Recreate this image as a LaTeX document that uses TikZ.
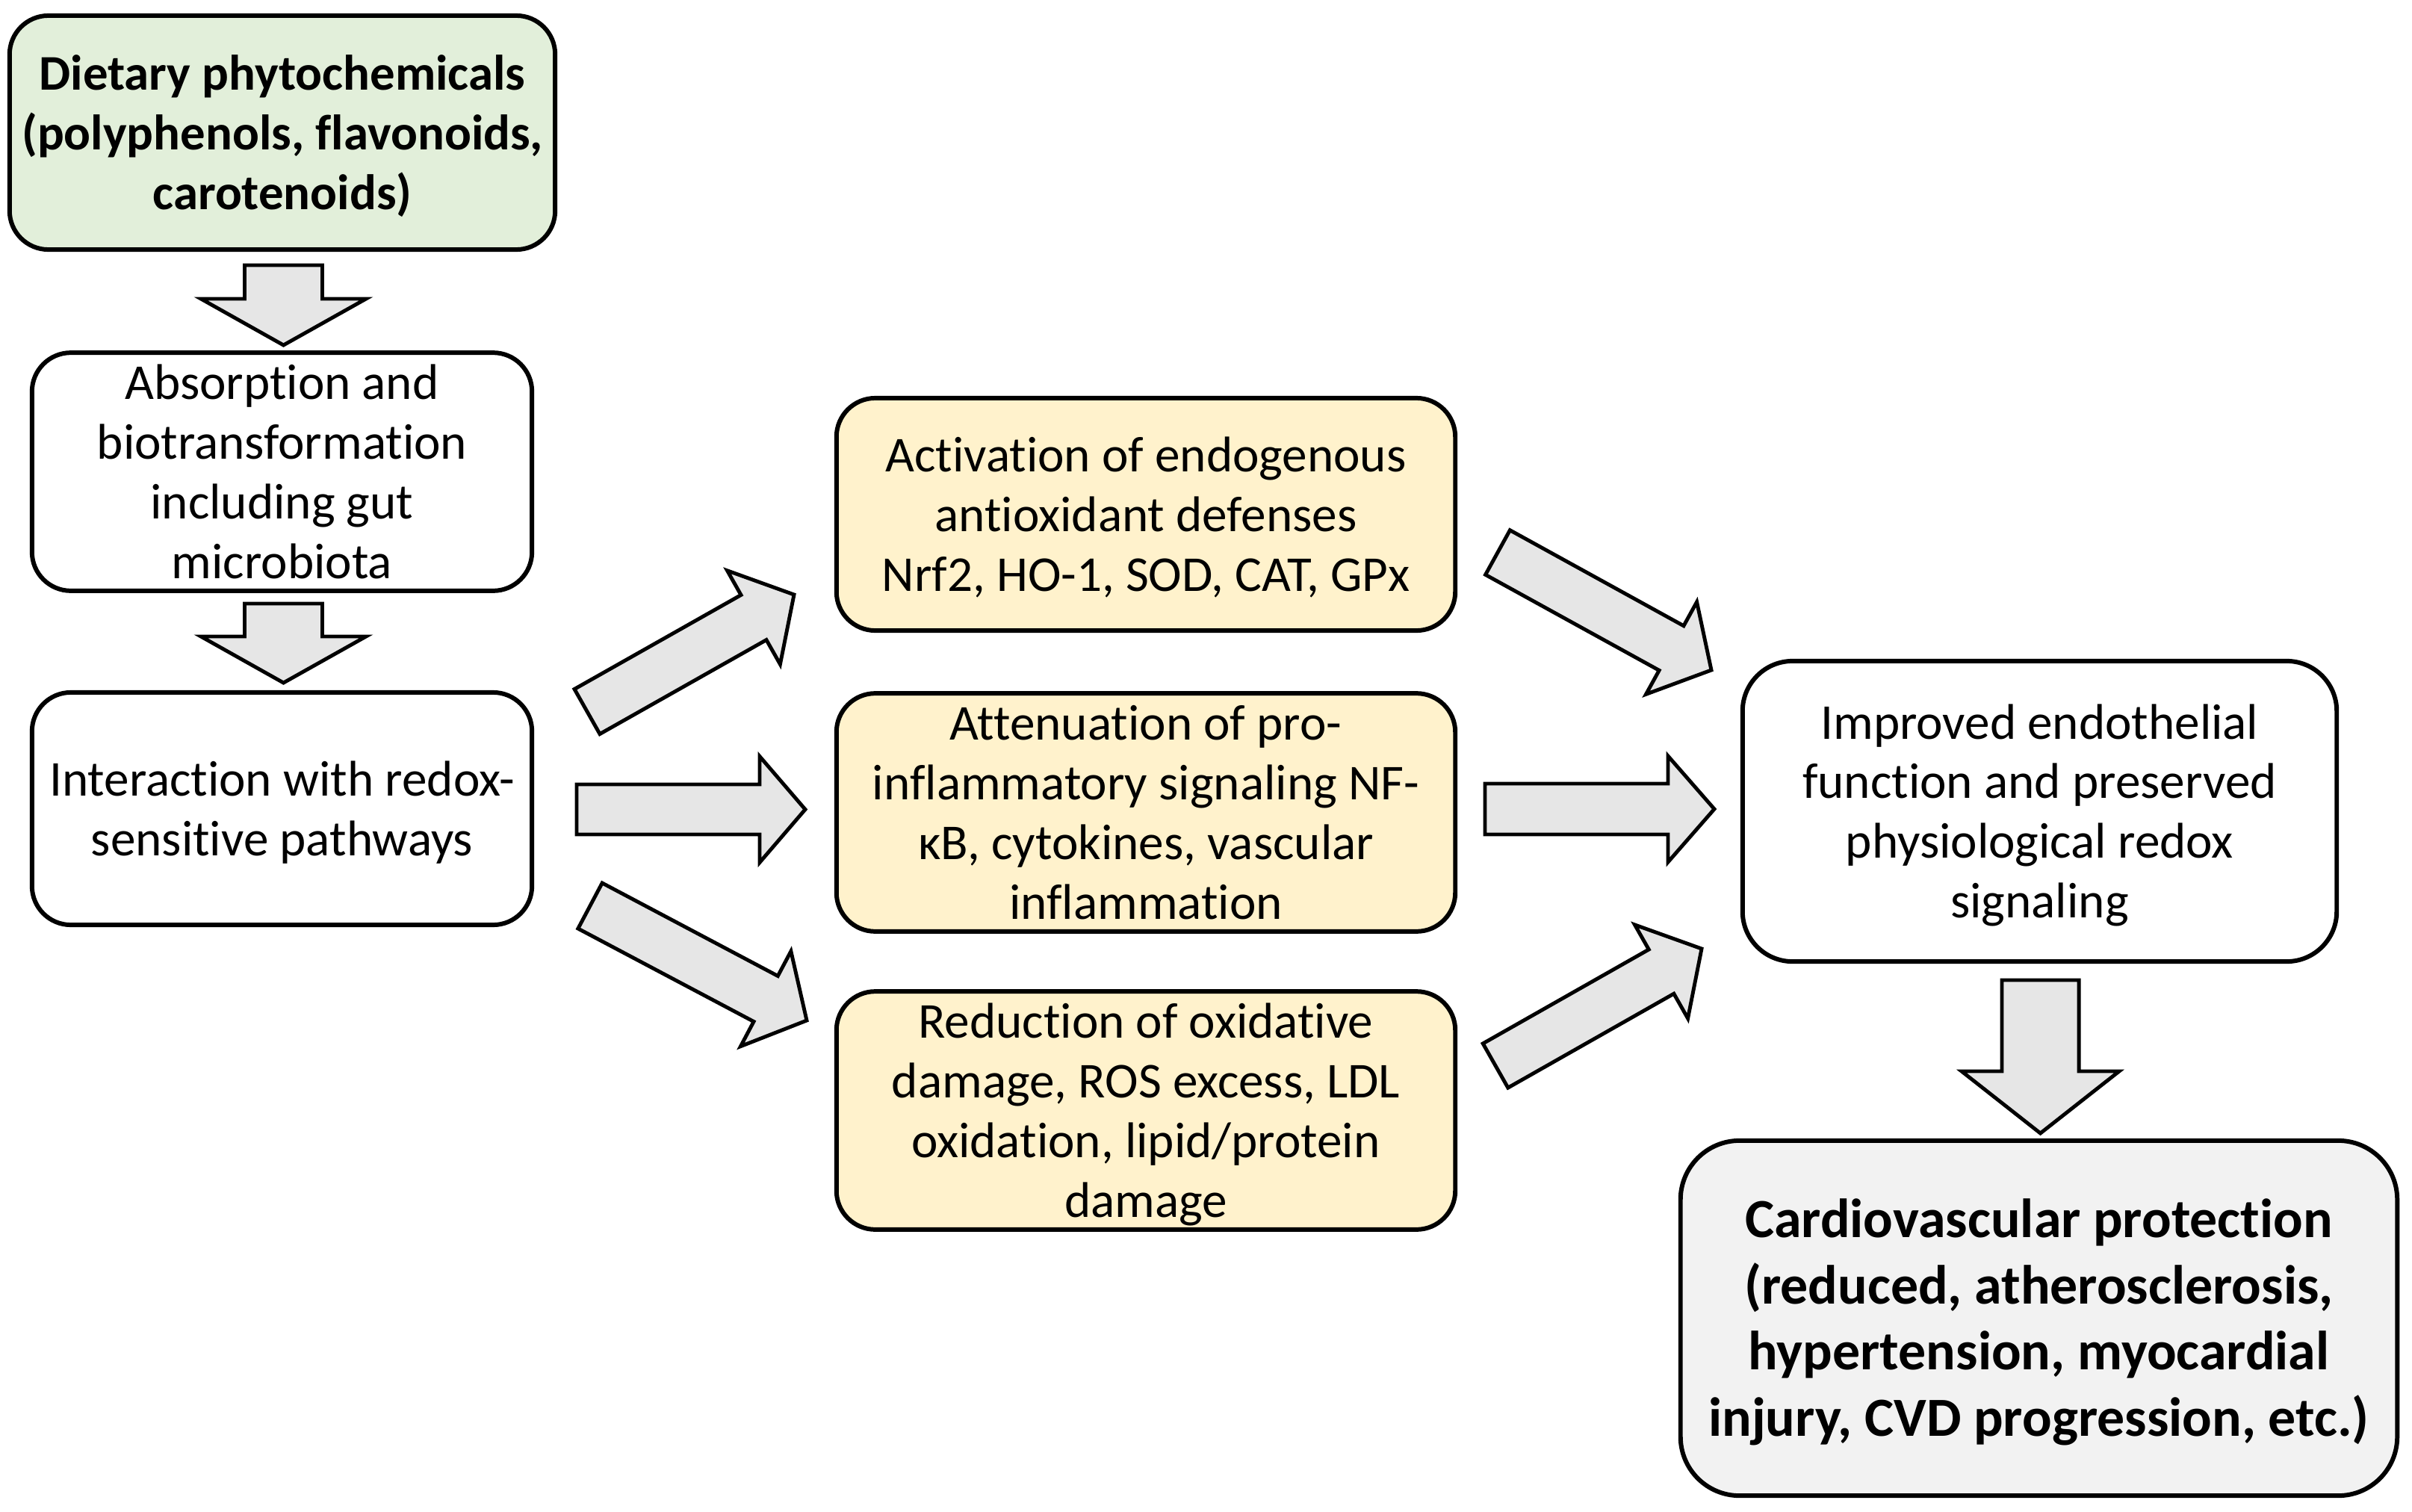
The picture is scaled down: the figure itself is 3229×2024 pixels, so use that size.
\documentclass[tikz,border=0pt]{standalone}
\usepackage{fontspec}
\setmainfont{Carlito}[Ligatures={NoCommon,NoContextual}]
\usetikzlibrary{calc}
\definecolor{boxgreen}{HTML}{E2EFDA}
\definecolor{boxyellow}{HTML}{FFF2CC}
\definecolor{boxgrey}{HTML}{F2F2F2}
\definecolor{arrowgrey}{HTML}{E6E6E6}
\newcommand\lnstrut{\rule[-0.25em]{0pt}{1.18em}}
\tikzset{
  flowbox/.style={draw=black, line width=1.7pt, rounded corners=0.52cm, align=center,
    inner sep=0pt, font=\fontsize{19.1pt}{22.7pt}\selectfont},
  boldtext/.style={font=\fontsize{19pt}{22.7pt}\selectfont\bfseries},
  bigbold/.style={font=\fontsize{21pt}{25.2pt}\selectfont\bfseries},
  blockarr/.style={draw=black, fill=arrowgrey, line width=1.4pt, line join=miter},
}
% #1 start, #2 tip, #3 shaft half width, #4 head half width, #5 head length
\newcommand\blockarrowdraw[5]{%
  \coordinate (bh) at ($(#2)!#5!(#1)$);
  \draw[blockarr] ($(#1)!#3!90:(#2)$) -- ($(bh)!#3!90:(#2)$) -- ($(bh)!#4!90:(#2)$)
    -- (#2) -- ($(bh)!#4!-90:(#2)$) -- ($(bh)!#3!-90:(#2)$) -- ($(#1)!#3!-90:(#2)$) -- cycle;
}
\begin{document}
\begin{tikzpicture}[x=0.01cm,y=-0.01cm]
\useasboundingbox (0,0) rectangle (3229,2024);

% boxes
\node[flowbox, boldtext, fill=boxgreen, minimum width=7.30cm, minimum height=3.13cm] (diet) at (378,177.5)
  {\lnstrut Dietary phytochemicals\\(polyphenols, flavonoids,\\carotenoids)\lnstrut};
\node[flowbox, fill=white, minimum width=6.69cm, minimum height=3.11cm] (absorb) at (377.5,631.5)
  {\lnstrut Absorption and\\biotransformation\\including gut\\microbiota\lnstrut};
\node[flowbox, fill=white, minimum width=6.69cm, minimum height=3.11cm] (interact) at (377.5,1082.5)
  {\lnstrut Interaction with redox-\\sensitive pathways\lnstrut};
\node[flowbox, fill=boxyellow, minimum width=8.28cm, minimum height=3.11cm] (activ) at (1534,688.5)
  {\lnstrut Activation of endogenous\\antioxidant defenses\\Nrf2, HO-1, SOD, CAT, GPx\lnstrut};
\node[flowbox, fill=boxyellow, minimum width=8.28cm, minimum height=3.09cm] (atten) at (1534,1087.5)
  {\lnstrut Attenuation of pro-\\inflammatory signaling NF-\\κB, cytokines, vascular\\inflammation\lnstrut};
\node[flowbox, fill=boxyellow, minimum width=8.28cm, minimum height=3.11cm] (reduct) at (1534,1486.5)
  {\lnstrut Reduction of oxidative\\damage, ROS excess, LDL\\oxidation, lipid/protein\\damage\lnstrut};
\node[flowbox, fill=white, rounded corners=0.67cm, minimum width=7.95cm, minimum height=4.02cm] (improv) at (2730.5,1086)
  {\lnstrut Improved endothelial\\function and preserved\\physiological redox\\signaling\lnstrut};
\node[flowbox, bigbold, fill=boxgrey, rounded corners=0.79cm, minimum width=9.59cm, minimum height=4.75cm] (cardio) at (2729.5,1764.5)
  {\lnstrut Cardiovascular protection\\(reduced, atherosclerosis,\\hypertension, myocardial\\injury, CVD progression, etc.)\lnstrut};

% arrow end points
\coordinate (d1s) at (379.5,355);   \coordinate (d1e) at (379.5,462);
\coordinate (d2s) at (379.5,808);   \coordinate (d2e) at (379.5,914);
\coordinate (d3s) at (2731.5,1312); \coordinate (d3e) at (2731.5,1517);
\coordinate (a1s) at (786,952.5);   \coordinate (a1e) at (1063,796);
\coordinate (a2s) at (772,1083.5);  \coordinate (a2e) at (1078,1083.5);
\coordinate (a3s) at (790,1212.5);  \coordinate (a3e) at (1080,1366);
\coordinate (b1s) at (2005,739.5);  \coordinate (b1e) at (2291,897);
\coordinate (b2s) at (1988,1083);   \coordinate (b2e) at (2295,1083);
\coordinate (b3s) at (2002,1426.5); \coordinate (b3e) at (2278,1270);

% block arrows
\blockarrowdraw{d1s}{d1e}{0.52cm}{1.105cm}{0.62cm}
\blockarrowdraw{d2s}{d2e}{0.52cm}{1.105cm}{0.62cm}
\blockarrowdraw{d3s}{d3e}{0.515cm}{1.055cm}{0.83cm}
\blockarrowdraw{a1s}{a1e}{0.345cm}{0.72cm}{0.62cm}
\blockarrowdraw{a2s}{a2e}{0.335cm}{0.71cm}{0.61cm}
\blockarrowdraw{a3s}{a3e}{0.345cm}{0.72cm}{0.62cm}
\blockarrowdraw{b1s}{b1e}{0.34cm}{0.705cm}{0.61cm}
\blockarrowdraw{b2s}{b2e}{0.34cm}{0.71cm}{0.62cm}
\blockarrowdraw{b3s}{b3e}{0.34cm}{0.72cm}{0.62cm}
\end{tikzpicture}
\end{document}
